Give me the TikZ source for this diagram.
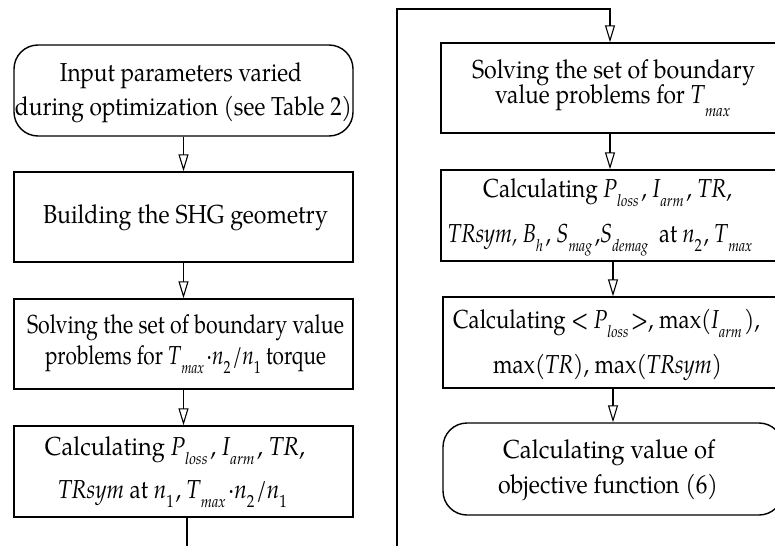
\documentclass[tikz,border=0pt]{standalone}
\usepackage{fontspec}
\setmainfont{TeX Gyre Pagella}
\usepackage{graphicx}
\usetikzlibrary{arrows.meta}
% subscripts (italic letters / upright digits)
\newcommand\sbi[1]{\raisebox{-9pt}{\fontsize{16.5}{16.5}\selectfont\itshape #1}}
\newcommand\sbd[1]{\raisebox{-9pt}{\fontsize{17.5}{17.5}\selectfont #1}}
% one text line: horizontal shift, ink width, content
\newcommand\Ln[3]{\hbox to 0pt{\hss\kern#1\kern#1\smash{\resizebox{#2}{\height}{#3}}\hss}}
% two lines: first baseline below centre, baseline gap, line 1, line 2
\newcommand\TwoL[4]{\smash{\raisebox{-#1}{\vtop{\offinterlineskip#3\vskip#2#4}}}}
\newcommand\OneL[2]{\smash{\raisebox{-#1}{#2}}}
\tikzset{
  box/.style={draw, line width=1.4pt, minimum width=339pt, minimum height=90pt,
    inner sep=0pt, font=\fontsize{26}{26}\selectfont},
  rbox/.style={box, rounded corners=24pt},
  arr/.style={-{Triangle[open,length=17pt,width=10pt]}, line width=1.1pt},
  ln/.style={line width=1.2pt},
}
\begin{document}
\begin{tikzpicture}[x=1pt,y=-1pt]
\useasboundingbox (0,0) rectangle (775,546);
\clip (0,0) rectangle (775,546);
% left column
\node[rbox, minimum height=91pt] (b1) at (183.5,90.5)
  {\TwoL{-9.5pt}{34pt}{\Ln{-2.5pt}{242pt}{Input parameters varied}}{\Ln{0pt}{337pt}{during optimization (see Table 2)}}};
\node[box] (b2) at (183.5,217)
  {\OneL{6pt}{\Ln{2pt}{285pt}{Building the SHG geometry}}};
\node[box] (b3) at (183.5,344)
  {\TwoL{-11pt}{31pt}{\Ln{2pt}{317pt}{Solving the set of boundary value}}{\Ln{2pt}{281pt}{problems for \textit{T}\sbi{max}\kern3pt·\textit{n}\sbd{2}\kern2pt/\textit{n}\sbd{1} torque}}};
\node[box, minimum height=91pt] (b4) at (183.5,471.5)
  {\TwoL{-16.5pt}{43pt}{\Ln{-8.5pt}{260pt}{Calculating \textit{P}\sbi{loss}\kern3pt, \textit{I}\sbi{arm}\kern3pt, \textit{TR},}}{\Ln{-11pt}{229pt}{\textit{TRsym} at \textit{n}\sbd{1}\kern2pt, \textit{T}\sbi{max}\kern3pt·\textit{n}\sbd{2}\kern2pt/\textit{n}\sbd{1}}}};
% right column
\node[box, minimum width=342pt] (r1) at (612,88)
  {\TwoL{-10pt}{25pt}{\Ln{1.5pt}{283pt}{Solving the set of boundary}}{\Ln{0.5pt}{235pt}{value problems for \textit{T}\raisebox{-13pt}{\fontsize{16.5}{16.5}\selectfont\itshape max}}}};
\node[box, minimum width=342pt, minimum height=91pt] (r2) at (612,215.5)
  {\TwoL{-18.5pt}{45pt}{\Ln{-4.5pt}{249pt}{Calculating \textit{P}\sbi{loss}\kern3pt, \textit{I}\sbi{arm}\kern3pt, \textit{TR},}}{\Ln{-12pt}{304pt}{\textit{TRsym, B}\sbi{h}\kern3pt, \textit{S}\sbi{mag}\kern3pt,\textit{S}\sbi{demag}\ \ at \textit{n}\sbd{2}\kern2pt, \textit{T}\sbi{max}}}};
\node[box, minimum width=340pt, minimum height=91pt] (r3) at (613,342.5)
  {\TwoL{-14.5pt}{45pt}{\Ln{-6.5pt}{307pt}{Calculating < \textit{P}\sbi{loss}\kern3pt>, max(\textit{I}\sbi{arm}\kern3pt),}}{\Ln{-5.5pt}{229pt}{max(\textit{TR)}, max\textit{(TRsym)}}}};
\node[rbox, minimum width=340pt, minimum height=92pt] (r4) at (613,469)
  {\TwoL{-11pt}{35pt}{\Ln{-4pt}{212pt}{Calculating value of}}{\Ln{-5pt}{220pt}{objective function (6)}}};
% connectors
\coordinate (lb) at (187,546);
\coordinate (rb) at (397,546);
\coordinate (rt) at (397,9);
\draw[arr] (b1) -- (b2);
\draw[arr] (b2) -- (b3);
\draw[arr] (b3) -- (b4);
\draw[ln] ([xshift=3.5pt]b4.south) -- (lb);
\draw[arr] (rb) -- (rt) -| ([xshift=-2pt]r1.north);
\draw[arr] ([xshift=-2pt]r1.south) -- ([xshift=-2pt]r2.north);
\draw[arr] (r2.south -| r3.north) -- (r3);
\draw[arr] (r3) -- (r4);
\end{tikzpicture}
\end{document}
